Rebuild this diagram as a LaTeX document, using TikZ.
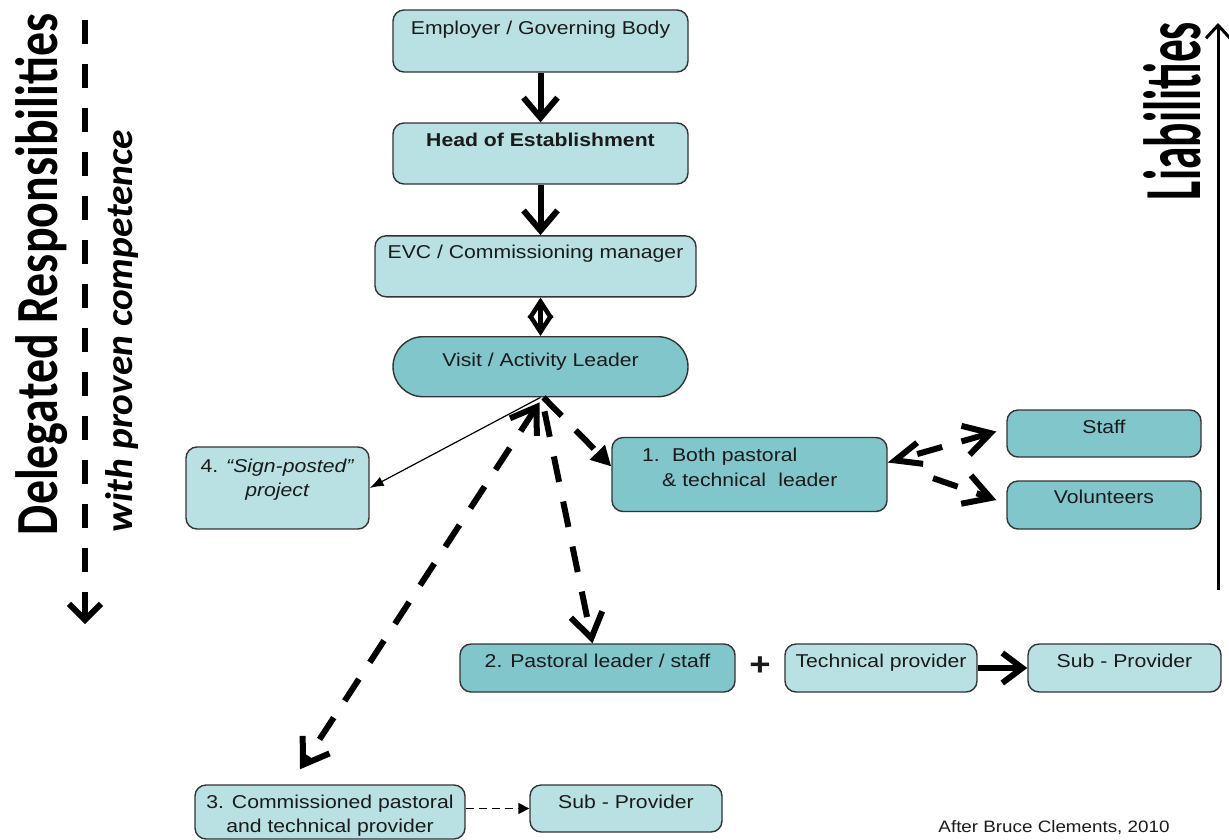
\documentclass[tikz,border=0pt]{standalone}
\usepackage{fontspec}
\usepackage{graphicx}
\setmainfont{Liberation Sans}[FakeStretch=1.14]
\newfontfamily\condfont{Carlito}
\usetikzlibrary{arrows.meta,calc}
\definecolor{lightbox}{HTML}{B9E1E4}
\definecolor{darkbox}{HTML}{80C6CB}
\definecolor{bordercol}{HTML}{333333}
\definecolor{txt}{HTML}{1A1A1A}
\newcommand{\mytop}[1]{\rule{0pt}{#1}}
\newcommand{\mybot}[1]{\rule[-#1]{0pt}{#1}}
\begin{document}
\begin{tikzpicture}[x=1pt,y=-1pt,
  box/.style={draw=bordercol, line width=1.4pt, rounded corners=11pt, inner sep=0pt, text=txt, align=center, font=\fontsize{18.6pt}{24.5pt}\selectfont},
  light/.style={box, fill=lightbox},
  dark/.style={box, fill=darkbox},
  sl/.style={text height=14pt, text depth=#1},
  chev/.style={line width=6pt, -{Straight Barb[length=20pt,width=34pt]}},
  dline/.style={line width=6pt, dash pattern=on 26pt off 20pt},
  bigtext/.style={inner sep=0pt, rotate=90, anchor=base, text=black}
]
\useasboundingbox (0,0) rectangle (1229,839);

% side labels
\node[bigtext] (deleg) at (57,274.5) {\resizebox{521pt}{42pt}{\condfont\bfseries Delegated Responsibilities}};
\node[bigtext] (compet) at (132,331) {\resizebox{402pt}{27pt}{\condfont\bfseries\itshape with proven competence}};
\node[bigtext] (liab) at (1200,111) {\resizebox{178pt}{57pt}{\condfont\bfseries Liabilities}};
\coordinate (dtop) at (85,20);
\coordinate (dbot) at (85,624);
\coordinate (ltop) at (1218,23);
\coordinate (lbot) at (1218,590);
\draw[line width=6pt, dash pattern=on 24pt off 20pt, -{Straight Barb[length=16pt,width=32pt]}] (dtop) -- (dbot);
\draw[line width=3pt, -{Straight Barb[length=13pt,width=24pt]}] (lbot) -- (ltop);

% boxes
\node[light, sl=28pt, minimum width=295pt, minimum height=62pt] (emp) at (540.5,41) {Employer / Governing Body};
\node[light, sl=27.6pt, minimum width=295pt, minimum height=61pt, font=\fontsize{18.6pt}{24.5pt}\selectfont\bfseries] (head) at (540.5,153.5) {Head of Establishment};
\node[light, sl=29pt, minimum width=321pt, minimum height=61pt] (evc) at (535.5,266.3) {EVC / Commissioning manager};
\node[dark, sl=15.4pt, minimum width=295pt, minimum height=60pt, rounded corners=30pt] (leader) at (540.5,366.7) {Visit / Activity Leader};
\node[light, minimum width=183pt, minimum height=82pt] (sign) at (277.5,488) {\mytop{14pt}4. \textit{“Sign-posted”}\\\textit{project}\mybot{21pt}};
\node[dark, minimum height=74pt, text width=215pt, inner xsep=30pt, align=left] (both) at (749.5,474.5) {\mytop{14pt}1.\ \ Both pastoral\\\hspace*{20pt}\&~technical\ \ leader\mybot{15.5pt}};
\node[dark, sl=15pt, minimum width=194pt, minimum height=47pt] (staff) at (1104,433.5) {Staff};
\node[dark, sl=18pt, minimum width=194pt, minimum height=48pt] (vol) at (1104,505) {Volunteers};
\node[dark, sl=14.6pt, minimum width=275pt, minimum height=48pt] (pl) at (597.5,668) {2. Pastoral leader / staff};
\node[light, sl=14.6pt, minimum width=192pt, minimum height=48pt] (tech) at (881,668) {Technical provider};
\node[light, sl=14.6pt, minimum width=193pt, minimum height=48pt] (subA) at (1124.5,668) {Sub - Provider};
\node[light, minimum width=270pt, minimum height=54pt] (com) at (330,812) {\mytop{21.5pt}3. Commissioned pastoral\\and technical provider\mybot{5pt}};
\node[light, sl=15pt, minimum width=192pt, minimum height=47pt] (subB) at (626,808.5) {Sub - Provider};
\node[font=\fontsize{32pt}{32pt}\selectfont\bfseries, text=txt, inner sep=0pt] (plus) at (760,666) {+};
\node[font=\fontsize{16.5pt}{18pt}\selectfont, text=txt, inner sep=0pt, anchor=base] (credit) at (1054,832) {After Bruce Clements, 2010};

% connectors
\draw[chev] (emp.south) -- (head.north);
\draw[chev] (head.south) -- (head.south |- evc.north);
\draw[line width=4.5pt, {Straight Barb[length=17pt,width=22pt]}-{Straight Barb[length=17pt,width=22pt]}] (leader.north |- evc.south) -- (leader.north);
\draw[line width=1.2pt, -{Latex[length=14pt,width=10pt]}] (leader.south) -- (sign.east);
\draw[dline, -{Triangle[length=20pt,width=20pt]}] ($(leader.south)+(3,0)$) -- ($(both.west)+(0,-8)$);
\draw[dline, -{Straight Barb[length=24pt,width=32pt]}] ($(leader.south)+(4,14)$) -- ($(pl.north)+(-5,0)$);
\draw[dline, {Straight Barb[length=24pt,width=32pt]}-{Straight Barb[length=24pt,width=32pt]}] ($(leader.south)+(-1,5)$) -- ($(com.north)+(-30,-15)$);
\draw[dline, dash phase=26pt, {Straight Barb[length=26pt,width=22pt]}-{Straight Barb[length=26pt,width=30pt]}] ($(both.east)+(0,-12)$) -- ($(staff.west)+(-10,-2)$);
\draw[dline, shorten <=48pt, -{Straight Barb[length=26pt,width=30pt]}] ($(both.east)+(0,-12)$) -- ($(vol.west)+(-10,-5)$);
\draw[line width=6pt, -{Straight Barb[length=20pt,width=30pt]}] (tech.east) -- (subA.west);
\draw[line width=1.5pt, dash pattern=on 8pt off 5pt, -{Triangle[length=11pt,width=11pt]}] (com.east |- subB.west) -- (subB.west);
\end{tikzpicture}
\end{document}
